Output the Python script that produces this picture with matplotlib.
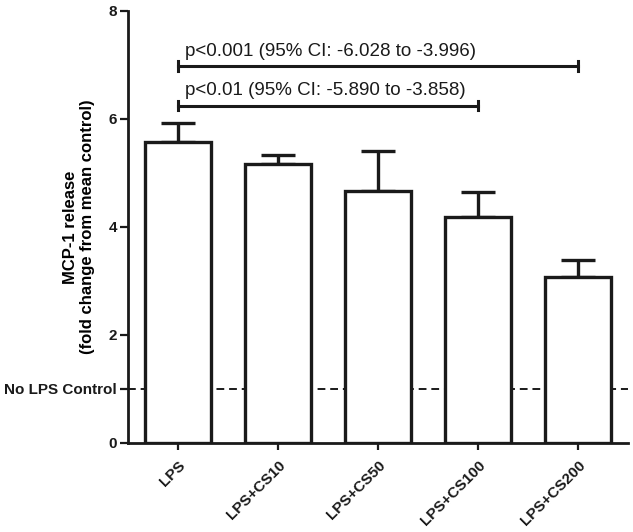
import matplotlib
matplotlib.use("Agg")
import matplotlib.pyplot as plt

categories = ["LPS", "LPS+CS10", "LPS+CS50", "LPS+CS100", "LPS+CS200"]
means = [5.58, 5.17, 4.67, 4.19, 3.08]
sem = [0.34, 0.16, 0.74, 0.45, 0.31]
control_level = 1.0
yticks = [0, 2, 4, 6, 8]
brackets = [
    (0, 3, 6.25, "p<0.01 (95% CI: -5.890 to -3.858)"),
    (0, 4, 6.98, "p<0.001 (95% CI: -6.028 to -3.996)"),
]

plt.rcParams['font.family'] = ['Liberation Sans', 'DejaVu Sans']

fig = plt.figure(figsize=(6.33, 5.32), dpi=100)
ax = fig.add_axes([128/633, (532-443)/532, 500/633, 432/532])

x = list(range(len(categories)))
ax.bar(x, means, width=0.66, color="white", edgecolor="#1a1a1a", linewidth=2.4, zorder=3)
ax.errorbar(x, means, yerr=[[0]*len(sem), sem], fmt="none", ecolor="#1a1a1a",
            elinewidth=2.4, capsize=12.5, capthick=2.4, zorder=2)

ax.axhline(control_level, color="#1a1a1a", linestyle=(0, (4, 2.5)), linewidth=1.4, zorder=1)

for x0, x1, yb, label in brackets:
    ax.plot([x0, x1], [yb, yb], color="#1a1a1a", linewidth=2.2, clip_on=False)
    ax.plot([x0, x0], [yb - 0.09, yb + 0.09], color="#1a1a1a", linewidth=2.2, clip_on=False)
    ax.plot([x1, x1], [yb - 0.09, yb + 0.09], color="#1a1a1a", linewidth=2.2, clip_on=False)
    ax.text(x0 + 0.07, yb + 0.12, label, fontsize=13.5, ha="left", va="bottom", color="#1a1a1a")

ax.set_xlim(-0.5, 4.5)
ax.set_ylim(0, 8)
ax.set_yticks(yticks + [control_level])
ax.set_yticklabels([str(t) for t in yticks] + ["No LPS Control"], fontsize=11, fontweight="bold")
ax.set_xticks(x)
ax.set_xticklabels(categories, rotation=45, ha="right", rotation_mode="anchor",
                   fontsize=11, fontweight="bold")

for s in ["top", "right"]:
    ax.spines[s].set_visible(False)
for s in ["left", "bottom"]:
    ax.spines[s].set_linewidth(2.0)
    ax.spines[s].set_color("#1a1a1a")
ax.tick_params(axis="y", length=6, width=1.6, pad=2, colors="#1a1a1a")
ax.tick_params(axis="x", length=5, width=1.6, pad=6, colors="#1a1a1a")

ax.set_ylabel("MCP-1 release\n(fold change from mean control)", fontsize=12, fontweight="bold",
              linespacing=1.15)
ax.yaxis.set_label_coords(-0.066, 0.5)

fig.savefig("out.png", dpi=100)
